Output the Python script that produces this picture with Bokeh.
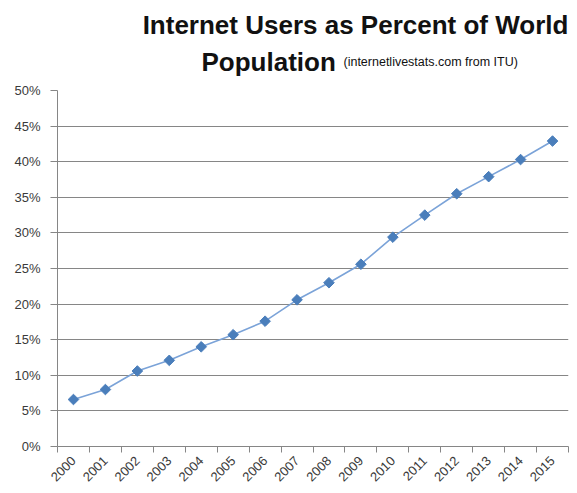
import math
from bokeh.plotting import figure
from bokeh.layouts import column
from bokeh.models import FixedTicker, NumeralTickFormatter, Range1d, CustomJSTickFormatter
from bokeh.core.properties import value
from bokeh.embed import file_html
from bokeh.resources import INLINE

years = ["2000", "2001", "2002", "2003", "2004", "2005", "2006", "2007",
         "2008", "2009", "2010", "2011", "2012", "2013", "2014", "2015"]
pct = [0.066, 0.080, 0.106, 0.121, 0.140, 0.157, 0.176, 0.206,
       0.230, 0.256, 0.294, 0.325, 0.355, 0.379, 0.403, 0.429]
y_ticks = [0.0, 0.05, 0.10, 0.15, 0.20, 0.25, 0.30, 0.35, 0.40, 0.45, 0.50]

title_main = "Internet Users as Percent of World"
title_second = "Population"
title_source = "(internetlivestats.com  from ITU)"

xs = list(range(len(years)))
bounds = [i - 0.5 for i in range(len(years) + 1)]

GRAY = "#868686"
FONT = "Liberation Sans"
TXT = "#3a3a3a"
TITLE_H = 80
LEFT, RIGHT = 57, 9
FW = 577 - LEFT - RIGHT
BASE_FIX = 8  # compensates the svg baseline offset

# ---- title strip: ranges match the page's pixels ----
t = figure(title=None, width=577, height=TITLE_H, frame_width=FW, frame_height=TITLE_H,
           x_range=Range1d(LEFT, LEFT + FW), y_range=Range1d(0, TITLE_H),
           x_axis_location=None, y_axis_location=None,
           min_border_left=LEFT, min_border_right=RIGHT, min_border_top=0, min_border_bottom=0,
           output_backend="svg", toolbar_location=None)
t.grid.visible = False
t.outline_line_color = None
t.text(x=[355], y=[TITLE_H - 32 + BASE_FIX], text=[title_main], text_align="center",
       text_baseline="alphabetic", text_font=value(FONT), text_font_style="bold",
       text_font_size="26px", text_color="#111111")
t.text(x=[201], y=[TITLE_H - 69 + BASE_FIX], text=[title_second], text_align="left",
       text_baseline="alphabetic", text_font=value(FONT), text_font_style="bold",
       text_font_size="26px", text_color="#111111")
t.text(x=[343], y=[TITLE_H - 69 + BASE_FIX], text=[title_source], text_align="left",
       text_baseline="alphabetic", text_font=value(FONT), text_font_size="12.5px",
       text_color="#111111")

# ---- chart ----
p = figure(width=577, height=493 - TITLE_H, frame_width=FW, frame_height=356,
           min_border_left=LEFT, min_border_right=RIGHT, min_border_top=90 - TITLE_H,
           min_border_bottom=47, output_backend="svg", toolbar_location=None,
           x_range=Range1d(-0.5, len(years) - 0.5), y_range=Range1d(0, 0.5))
p.outline_line_color = None

p.yaxis.ticker = FixedTicker(ticks=y_ticks)
p.yaxis.formatter = NumeralTickFormatter(format="0%")
p.yaxis.axis_line_color = GRAY
p.yaxis.major_tick_line_color = GRAY
p.yaxis.major_tick_out = 7
p.yaxis.major_tick_in = 0
p.yaxis.minor_tick_line_color = None
p.yaxis.major_label_text_font = FONT
p.yaxis.major_label_text_font_size = "13px"
p.yaxis.major_label_text_color = TXT
p.yaxis.major_label_standoff = 10

p.xaxis.ticker = FixedTicker(ticks=xs, minor_ticks=bounds)
p.xaxis.formatter = CustomJSTickFormatter(args=dict(labels=years),
                                          code="return labels[Math.round(tick)] || '';")
p.xaxis.axis_line_color = GRAY
p.xaxis.major_tick_line_color = None
p.xaxis.minor_tick_line_color = GRAY
p.xaxis.minor_tick_out = 6
p.xaxis.minor_tick_in = 0
p.xaxis.major_label_orientation = math.pi / 4
p.xaxis.major_label_text_font = FONT
p.xaxis.major_label_text_font_size = "13px"
p.xaxis.major_label_text_color = TXT
p.xaxis.major_label_standoff = 6

p.xgrid.grid_line_color = None
p.ygrid.ticker = FixedTicker(ticks=y_ticks)
p.ygrid.grid_line_color = GRAY
p.ygrid.grid_line_width = 1

p.line(xs, pct, line_color="#7BA3D8", line_width=1.6)
p.scatter(xs, pct, marker="square", angle=math.pi / 4, size=7.5,
          fill_color="#4A7EBB", line_color="#4A7EBB")

layout = column(t, p, spacing=0)
open("out.html", "w").write(file_html(layout, INLINE))
